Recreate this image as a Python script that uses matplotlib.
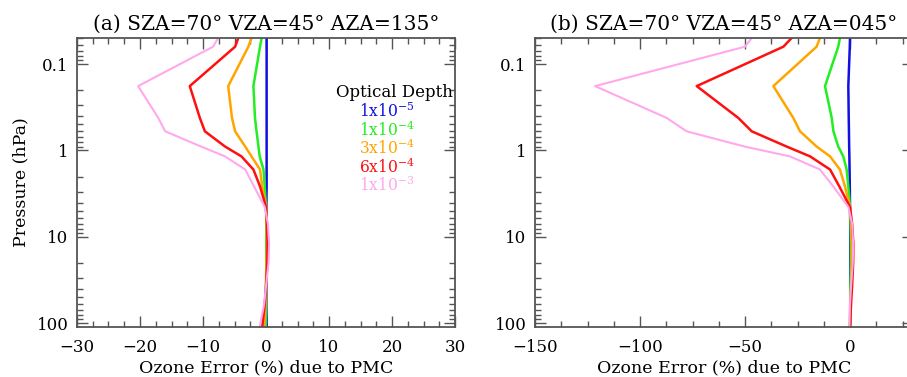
import matplotlib
matplotlib.use("Agg")
import matplotlib.pyplot as plt
import numpy as np
from matplotlib.ticker import LogLocator, MultipleLocator, FixedFormatter, FixedLocator, NullFormatter

plt.rcParams["font.family"] = ["DejaVu Serif"]
plt.rcParams["mathtext.fontset"] = "dejavuserif"

# pressure levels (hPa) of the error profiles
pressure = [0.05, 0.063, 0.18, 0.42, 0.6, 0.9, 1.17, 1.66, 2.6, 4.5,
            7.0, 12.0, 20.0, 37.0, 60.0, 110.0]

tau_labels = [r"1x10$^{-5}$", r"1x10$^{-4}$", r"3x10$^{-4}$",
              r"6x10$^{-4}$", r"1x10$^{-3}$"]
tau_colors = ["#1010e0", "#22ee22", "#ffa500", "#ff1010", "#ffa8ec"]

# (a) SZA=70 VZA=45 AZA=135
err_a_1e5 = [0.1, 0.1, 0.1, 0.1, 0.1, 0.1, 0.1, 0.1, 0.1, 0.05,
             0.05, 0.05, 0.05, 0.05, 0.05, 0.1]
err_a_1e4 = [-0.7, -0.95, -2.0, -1.75, -1.5, -1.2, -1.0, -0.4, -0.2, 0.0,
             0.05, 0.05, 0.05, 0.0, 0.0, -0.05]
err_a_3e4 = [-2.3, -2.8, -6.0, -5.4, -4.9, -3.3, -2.3, -0.95, -0.6, 0.0,
             0.1, 0.15, 0.1, 0.0, -0.1, -0.3]
err_a_6e4 = [-4.4, -4.9, -12.1, -10.5, -9.7, -6.5, -3.9, -2.0, -0.95, 0.0,
             0.15, 0.25, 0.2, 0.0, -0.2, -0.6]
err_a_1e3 = [-7.6, -8.4, -20.3, -17.1, -16.0, -10.3, -6.5, -3.3, -1.9, -0.2,
             0.3, 0.5, 0.4, 0.0, -0.3, -1.0]

# (b) SZA=70 VZA=45 AZA=045
err_b_1e5 = [0.0, -0.1, -0.8, -0.6, -0.5, -0.4, -0.3, -0.2, -0.1, 0.0,
             0.1, 0.1, 0.1, 0.1, 0.1, 0.1]
err_b_1e4 = [-4.8, -5.6, -11.9, -8.7, -7.9, -5.6, -3.2, -1.6, -0.8, 0.0,
             0.3, 0.4, 0.4, 0.2, 0.1, 0.0]
err_b_3e4 = [-14.3, -15.9, -36.5, -27.0, -23.8, -15.9, -9.5, -4.8, -2.4, 0.0,
             0.5, 0.8, 0.8, 0.5, 0.2, 0.0]
err_b_6e4 = [-27.8, -31.7, -73.0, -53.2, -46.8, -30.2, -19.0, -9.5, -5.1, 0.0,
             1.0, 1.6, 1.5, 1.0, 0.5, 0.0]
err_b_1e3 = [-46.8, -50.0, -121.4, -87.3, -77.8, -50.2, -28.6, -14.3, -8.0, -0.8,
             1.0, 1.5, 1.3, 0.5, 0.0, -0.3]

W, H = 907, 377
fig = plt.figure(figsize=(W / 100, H / 100), dpi=100)

AX_GRAY = "#555555"


def make_axes(left_px, title, xlim, minor, xticks):
    ax = fig.add_axes([left_px / W, (H - 327) / H, 378 / W, 289 / H])
    ax.set_yscale("log")
    ax.set_ylim(110, 0.05)
    ax.set_xlim(*xlim)
    ax.yaxis.set_major_locator(FixedLocator([0.1, 1, 10, 100]))
    ax.yaxis.set_major_formatter(FixedFormatter(["0.1", "1", "10", "100"]))
    ax.yaxis.set_minor_locator(LogLocator(base=10, subs=np.arange(2, 10)))
    ax.yaxis.set_minor_formatter(NullFormatter())
    ax.xaxis.set_major_locator(FixedLocator(xticks))
    ax.xaxis.set_major_formatter(FixedFormatter([f"{t:d}".replace("-", "\u2212") for t in xticks]))
    ax.xaxis.set_minor_locator(MultipleLocator(minor))
    ax.tick_params(which="both", direction="in", top=True, right=True,
                   color=AX_GRAY, width=1.0, labelsize=12)
    ax.tick_params(axis="x", pad=9)
    ax.tick_params(axis="y", pad=6)
    ax.tick_params(which="major", length=8)
    ax.tick_params(which="minor", length=4)
    for s in ax.spines.values():
        s.set_color(AX_GRAY)
        s.set_linewidth(1.3)
    ax.set_title(title, fontsize=14.5, pad=6)
    ax.set_xlabel("Ozone Error (%) due to PMC", fontsize=12.5, labelpad=2)
    return ax


ax_a = make_axes(77, "(a) SZA=70\u00b0 VZA=45\u00b0 AZA=135\u00b0",
                 (-30, 30), 2.5, [-30, -20, -10, 0, 10, 20, 30])
ax_b = make_axes(535, "(b) SZA=70\u00b0 VZA=45\u00b0 AZA=045\u00b0",
                 (-150, 30), 12.5, [-150, -100, -50, 0])
ax_a.set_ylabel("Pressure (hPa)", fontsize=12.5, labelpad=5)

series_a = [err_a_1e5, err_a_1e4, err_a_3e4, err_a_6e4, err_a_1e3]
series_b = [err_b_1e5, err_b_1e4, err_b_3e4, err_b_6e4, err_b_1e3]
widths = [1.8, 1.8, 1.8, 1.8, 1.5]

for ax, series in ((ax_a, series_a), (ax_b, series_b)):
    for vals, col, lw in zip(series, tau_colors, widths):
        ax.plot(vals, pressure, color=col, lw=lw)

# legend as coloured text
ax_a.text(0.995, 0.81, "Optical Depth", transform=ax_a.transAxes,
          ha="right", va="center", fontsize=12)
for i, (lab, col) in enumerate(zip(tau_labels, tau_colors)):
    ax_a.text(0.82, 0.745 - i * 0.064, lab, transform=ax_a.transAxes,
              ha="center", va="center", fontsize=11.2, color=col)

fig.savefig("out.png", dpi=100)
